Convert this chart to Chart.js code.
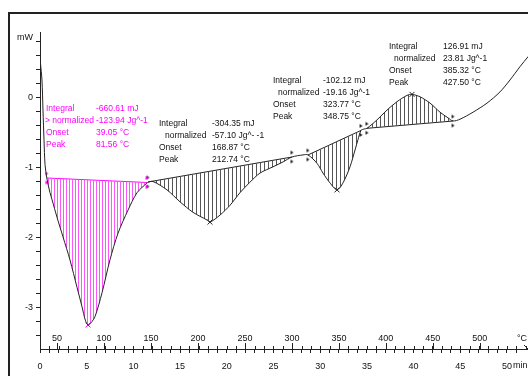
<!DOCTYPE html>
<html>
<head>
<meta charset="utf-8">
<script src="https://cdn.jsdelivr.net/npm/chart.js@4.4.0/dist/chart.umd.min.js"></script>
<style>
  html, body { margin: 0; padding: 0; background: #fff; overflow: hidden; }
  #frame { position: absolute; left: 8px; top: 12px; width: 600px; height: 400px;
           border-left: 2px solid #222; border-top: 2px solid #222; }
  #c { position: absolute; left: 0; top: 0; }
</style>
</head>
<body>
<div id="frame"></div>
<!-- a few px wider than the window: the plot runs off the right edge like the original -->
<canvas id="c" width="533" height="376"></canvas>
<script>
// DSC trace: time (min) vs heat flow (mW)
const TIME_MIN = [0.05, 0.21, 0.32, 0.43, 0.54, 0.74, 1.07, 1.29, 1.82, 2.46, 3.21, 3.96, 4.50, 4.85, 5.14,
  5.45, 5.89, 6.64, 7.49, 8.35, 9.42, 10.39, 11.46, 11.56, 12.10, 13.60, 14.99, 16.38, 17.88, 18.20,
  19.27, 20.34, 21.41, 22.48, 23.55, 24.95, 26.02, 26.98, 28.16, 28.69, 29.66, 30.30, 31.05, 31.80,
  32.44, 33.19, 33.73, 34.05, 34.37, 34.70, 35.01, 36.08, 37.15, 38.22, 39.29, 39.83, 40.69, 41.76,
  42.83, 43.68, 44.22, 44.97, 46.36, 47.86, 49.25, 50.32, 51.39, 52.30];
const HEAT_FLOW = [0.49, 0.25, -0.18, -0.61, -0.96, -1.16, -1.36, -1.46, -1.71, -1.99, -2.32, -2.71, -2.99, -3.18, -3.25,
  -3.22, -3.13, -2.79, -2.32, -1.94, -1.61, -1.36, -1.22, -1.21, -1.20, -1.32, -1.49, -1.64, -1.75, -1.78,
  -1.68, -1.54, -1.36, -1.21, -1.08, -0.99, -0.92, -0.85, -0.82, -0.82, -0.94, -1.08, -1.22, -1.32,
  -1.22, -0.99, -0.75, -0.60, -0.47, -0.45, -0.44, -0.32, -0.18, -0.06, 0.03, 0.045, 0.01, -0.08,
  -0.21, -0.29, -0.335, -0.31, -0.21, -0.08, 0.08, 0.25, 0.44, 0.59];

// integration baselines: start/end (min, mW)
const BASE_T0 = [0.74, 11.56, 28.69, 35.01];
const BASE_Y0 = [-1.15, -1.207, -0.821, -0.44];
const BASE_T1 = [11.46, 26.98, 34.37, 44.22];
const BASE_Y1 = [-1.214, -0.85, -0.47, -0.336];
const PEAK_T = [5.14, 18.20, 31.80, 39.83];
const PEAK_MW = [-3.25, -1.78, -1.32, 0.045];

const ROW_NAMES = ['Integral', 'normalized', 'Onset', 'Peak'];
const RESULTS = [
  ['-660.61 mJ', '-123.94 Jg^-1', '39.05 \u00b0C', '81.56 \u00b0C'],
  ['-304.35 mJ', '-57.10 Jg^- -1', '168.87 \u00b0C', '212.74 \u00b0C'],
  ['-102.12 mJ', '-19.16 Jg^-1', '323.77 \u00b0C', '348.75 \u00b0C'],
  ['126.91 mJ', '23.81 Jg^-1', '385.32 \u00b0C', '427.50 \u00b0C'],
];

const TIME_LABELS = [0, 5, 10, 15, 20, 25, 30, 35, 40, 45, 50];
const TEMP_LABELS = [50, 100, 150, 200, 250, 300, 350, 400, 450, 500];
const Y_MAJOR = [-3, -2, -1, 0];
const Y_TICKS = [-3.4, -3.2, -3.0, -2.8, -2.6, -2.4, -2.2, -2.0, -1.8, -1.6, -1.4, -1.2, -1.0,
  -0.8, -0.6, -0.4, -0.2, 0, 0.2, 0.4, 0.6, 0.8];
const T_START = 31.9, RATE = 9.94;   // degC at 0 min, K/min

const PINK = '#ff00ff', INK = '#222';
const FONT = '"Liberation Sans", Arial, sans-serif';

function hatch(color, gap) {
  const c = document.createElement('canvas');
  c.width = gap; c.height = 4;
  const g = c.getContext('2d');
  g.fillStyle = color;
  g.fillRect(0, 0, 1, 4);
  return g.createPattern(c, 'repeat');
}

function endMark(color) {
  const c = document.createElement('canvas');
  c.width = 7; c.height = 15;
  const g = c.getContext('2d');
  g.fillStyle = color;
  g.beginPath(); g.moveTo(2, 1); g.lineTo(5, 3); g.lineTo(2, 5); g.fill();
  g.beginPath(); g.moveTo(2, 10); g.lineTo(5, 12); g.lineTo(2, 14); g.fill();
  return c;
}

const curve = TIME_MIN.map((t, i) => ({ x: t, y: HEAT_FLOW[i] }));
const datasets = [];
datasets.push({ data: curve, borderColor: INK, borderWidth: 1, pointRadius: 0, tension: 0.3, fill: false });

BASE_T0.forEach((t0, k) => {
  const t1 = BASE_T1[k];
  const color = k === 0 ? PINK : INK;
  const baseIdx = datasets.length + 1;
  datasets.push({
    data: curve.filter(p => p.x >= t0 - 1e-6 && p.x <= t1 + 1e-6),
    borderWidth: 0, pointRadius: 0, tension: 0.3,
    fill: { target: baseIdx },
    backgroundColor: k === 0 ? hatch('#ff55ff', 3) : hatch('#555', 4),
  });
  datasets.push({
    data: [{ x: t0, y: BASE_Y0[k] }, { x: t1, y: BASE_Y1[k] }],
    borderColor: color, borderWidth: 1, pointRadius: 0, fill: false,
  });
  datasets.push({
    data: [{ x: t0, y: BASE_Y0[k] }, { x: t1, y: BASE_Y1[k] }],
    showLine: false, pointStyle: endMark(color), pointRadius: 4, fill: false,
  });
});

datasets.push({
  data: PEAK_T.map((t, i) => ({ x: t, y: PEAK_MW[i] })),
  showLine: false, fill: false, pointStyle: 'crossRot', pointRadius: 3.5, borderWidth: 1,
  borderColor: PEAK_T.map((t, i) => i === 0 ? PINK : INK),
});

// result blocks: [label x, "normalized" x, value x, first row y]
const BLOCKS = [[46, 45, 96, 109], [159, 165, 212, 124], [273, 278, 323, 81], [389, 394, 443, 47]];

const decor = {
  id: 'decor',
  afterDraw(chart) {
    const { ctx, scales: { x }, chartArea } = chart;
    const ax = chartArea.bottom;
    ctx.save();
    ctx.strokeStyle = INK; ctx.lineWidth = 1;
    ctx.beginPath();
    for (let t = 0; t <= 52; t++) {
      const px = Math.round(x.getPixelForValue(t)) + 0.5;
      ctx.moveTo(px, ax); ctx.lineTo(px, ax - 3);
    }
    TEMP_LABELS.forEach(T => {
      const px = Math.round(x.getPixelForValue((T - T_START) / RATE)) + 0.5;
      ctx.moveTo(px, ax); ctx.lineTo(px, ax - 6);
    });
    ctx.moveTo(chartArea.right - 4, ax - 4); ctx.lineTo(chartArea.right, ax);
    ctx.stroke();

    ctx.fillStyle = '#111';
    ctx.font = '9px ' + FONT;
    ctx.textAlign = 'center'; ctx.textBaseline = 'middle';
    TEMP_LABELS.forEach(T => {
      ctx.fillText(String(T), x.getPixelForValue((T - T_START) / RATE), ax - 10);
    });
    ctx.fillText('\u00b0C', chartArea.right - 6, ax - 10);
    ctx.textAlign = 'left';
    ctx.fillText('min', x.getPixelForValue(50) + 6, ax + 17);
    ctx.textAlign = 'right';
    ctx.fillText('mW', chartArea.left - 7, chartArea.top + 6);

    ctx.font = '8.5px ' + FONT;
    ctx.textAlign = 'left';
    BLOCKS.forEach(([lx, nx, vx, y0], k) => {
      ctx.fillStyle = k === 0 ? PINK : '#111';
      ROW_NAMES.forEach((name, r) => {
        const ry = y0 + r * 12;
        const label = r === 1 ? (k === 0 ? '> ' + name : name) : name;
        ctx.fillText(label, r === 1 ? nx : lx, ry);
        ctx.fillText(RESULTS[k][r], vx, ry);
      });
    });
    ctx.restore();
  }
};

new Chart(document.getElementById('c'), {
  type: 'line',
  data: { datasets },
  options: {
    responsive: false,
    animation: false,
    devicePixelRatio: 1,
    layout: { padding: { top: 32, right: 0, left: 0, bottom: 0 } },
    plugins: { legend: { display: false }, tooltip: { enabled: false } },
    scales: {
      x: {
        type: 'linear', min: 0, max: 52.25,
        afterFit: s => { s.height = 27; s.paddingLeft = 0; s.paddingRight = 0; },
        ticks: {
          stepSize: 1, autoSkip: false, maxRotation: 0, padding: 8, color: '#111',
          font: { size: 9, family: FONT },
          callback: v => TIME_LABELS.includes(v) ? String(v) : '',
        },
        grid: { drawOnChartArea: false, tickLength: 4, color: INK },
        border: { color: INK, width: 1 },
      },
      y: {
        type: 'linear', min: -3.593, max: 0.936,
        afterFit: s => { s.width = 40; },
        afterBuildTicks: s => { s.ticks = Y_TICKS.map(v => ({ value: v })); },
        ticks: {
          autoSkip: false, padding: 3, color: '#111',
          font: { size: 9, family: FONT },
          callback: v => Y_MAJOR.some(m => Math.abs(m - v) < 1e-6) ? String(Math.round(v)) : '',
        },
        grid: { drawOnChartArea: false, tickLength: 4, color: INK },
        border: { color: INK, width: 1 },
      },
    },
  },
  plugins: [decor],
});
</script>
</body>
</html>
